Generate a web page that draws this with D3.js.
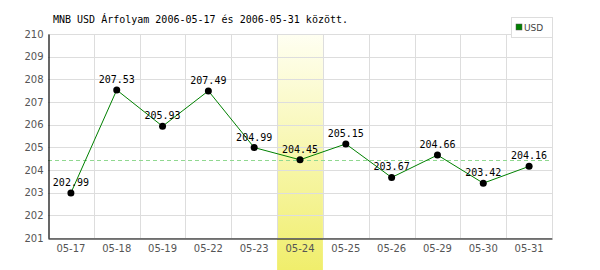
<!DOCTYPE html>
<html>
<head>
<meta charset="UTF-8">
<script src="https://cdn.jsdelivr.net/npm/d3@7"></script>
<style>
  body { margin: 0; background: #fff; }
  svg { display: block; }
</style>
</head>
<body>
<svg width="600" height="270"></svg>
<script>
  var title = "MNB USD Árfolyam 2006-05-17 és 2006-05-31 között.";
  var days = ["05-17", "05-18", "05-19", "05-22", "05-23", "05-24", "05-25", "05-26", "05-29", "05-30", "05-31"];
  var rates = [202.99, 207.53, 205.93, 207.49, 204.99, 204.45, 205.15, 203.67, 204.66, 203.42, 204.16];
  var yTicks = [201, 202, 203, 204, 205, 206, 207, 208, 209, 210];
  var highlightDay = "05-24";
  var refValue = 204.45;
  var seriesName = "USD";

  // plot box (note: "top" is reserved on window, so use other names)
  var pLeft = 48, pRight = 552, pTop = 34, pBottom = 238;

  var svg = d3.select("svg");

  var x = d3.scaleBand().domain(days).range([pLeft, pRight]);
  var y = d3.scaleLinear().domain([201, 210]).range([pBottom, pTop]);

  var defs = svg.append("defs");
  var grad = defs.append("linearGradient")
      .attr("id", "hl").attr("x1", 0).attr("y1", 0).attr("x2", 0).attr("y2", 1);
  grad.append("stop").attr("offset", "0%").attr("stop-color", "#fffff2");
  grad.append("stop").attr("offset", "100%").attr("stop-color", "#f0ee6c");

  // highlighted day
  svg.append("rect")
      .attr("x", x(highlightDay))
      .attr("y", pTop)
      .attr("width", x.bandwidth())
      .attr("height", 270 - pTop)
      .attr("fill", "url(#hl)");

  // grid
  svg.selectAll("line.hgrid")
      .data(yTicks)
      .enter().append("line")
      .attr("class", "hgrid")
      .attr("x1", pLeft).attr("x2", pRight)
      .attr("y1", function(d) { return Math.round(y(d)) + 0.5; })
      .attr("y2", function(d) { return Math.round(y(d)) + 0.5; })
      .attr("stroke", "#dddddd");

  svg.selectAll("line.vgrid")
      .data(days.slice(1).concat([null]))
      .enter().append("line")
      .attr("class", "vgrid")
      .attr("x1", function(d) { return Math.round(d ? x(d) : pRight) + 0.5; })
      .attr("x2", function(d) { return Math.round(d ? x(d) : pRight) + 0.5; })
      .attr("y1", pTop).attr("y2", pBottom)
      .attr("stroke", "#dddddd");

  // reference line
  svg.append("line")
      .attr("x1", pLeft).attr("x2", pRight)
      .attr("y1", Math.round(y(refValue)) + 0.5)
      .attr("y2", Math.round(y(refValue)) + 0.5)
      .attr("stroke", "#90d890")
      .attr("stroke-dasharray", "4,3");

  // axes
  var yAxis = svg.append("g")
      .attr("transform", "translate(" + (pLeft + 0.5) + ",0)")
      .call(d3.axisLeft(y).tickValues(yTicks).tickSize(0).tickPadding(5));
  var xAxis = svg.append("g")
      .attr("transform", "translate(0," + (pBottom + 0.5) + ")")
      .call(d3.axisBottom(x).tickSize(0).tickPadding(6));

  [yAxis, xAxis].forEach(function(g) {
    g.select(".domain").attr("stroke", "#000").attr("stroke-width", 1.2);
    g.selectAll("text")
        .attr("fill", "#555")
        .style("font-family", "DejaVu Sans, sans-serif")
        .style("font-size", "10px");
  });

  // series line
  var line = d3.line()
      .x(function(d, i) { return x(days[i]) + x.bandwidth() / 2; })
      .y(function(d) { return y(d); });

  svg.append("path")
      .datum(rates)
      .attr("d", line)
      .attr("fill", "none")
      .attr("stroke", "#008000")
      .attr("stroke-width", 1);

  svg.selectAll("circle.pt")
      .data(rates)
      .enter().append("circle")
      .attr("class", "pt")
      .attr("cx", function(d, i) { return x(days[i]) + x.bandwidth() / 2; })
      .attr("cy", function(d) { return y(d); })
      .attr("r", 3.5)
      .attr("fill", "#000");

  svg.selectAll("text.val")
      .data(rates)
      .enter().append("text")
      .attr("class", "val")
      .attr("x", function(d, i) { return x(days[i]) + x.bandwidth() / 2; })
      .attr("y", function(d) { return y(d) - 7; })
      .attr("text-anchor", "middle")
      .style("font-family", "DejaVu Sans Mono, monospace")
      .style("font-size", "10px")
      .attr("fill", "#000")
      .text(function(d) { return d.toFixed(2); });

  // title
  svg.append("text")
      .attr("x", 53).attr("y", 23)
      .style("font-family", "DejaVu Sans Mono, monospace")
      .style("font-size", "10px")
      .attr("fill", "#000")
      .text(title);

  // legend
  svg.append("rect")
      .attr("x", 511.5).attr("y", 17.5).attr("width", 41).attr("height", 20)
      .attr("fill", "#fff").attr("stroke", "#dddddd");
  svg.append("rect")
      .attr("x", 516).attr("y", 24).attr("width", 6).attr("height", 6)
      .attr("fill", "#008000").attr("stroke", "#555").attr("stroke-width", 0.5);
  svg.append("text")
      .attr("x", 524).attr("y", 31)
      .style("font-family", "DejaVu Sans, sans-serif")
      .style("font-size", "9px")
      .attr("fill", "#444")
      .text(seriesName);
</script>
</body>
</html>
